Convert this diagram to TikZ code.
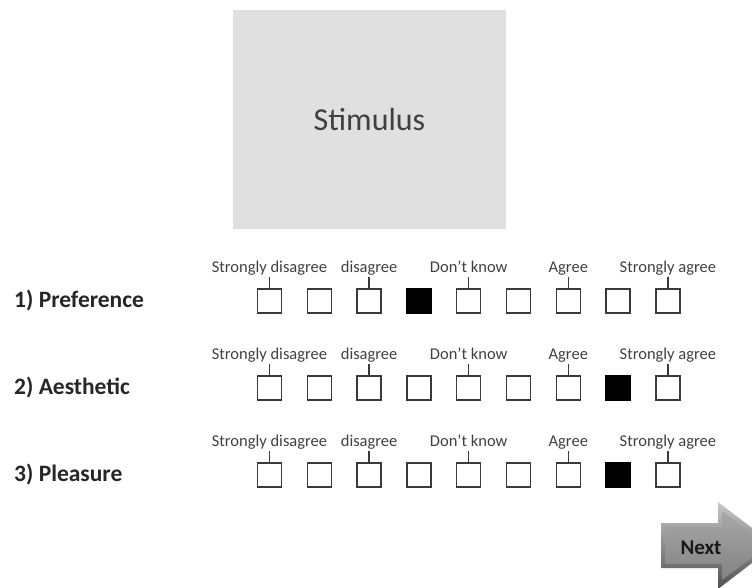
\documentclass[tikz,border=0pt]{standalone}
\usepackage{fontspec}
\setmainfont{Carlito}
\usetikzlibrary{positioning}
\definecolor{boxline}{HTML}{3A3A3A}
\definecolor{labeltext}{HTML}{404040}
\definecolor{stimfill}{HTML}{E0E0E0}
\definecolor{bevellight}{HTML}{C8C8C8}
\definecolor{beveldark}{HTML}{505050}
\definecolor{facetop}{HTML}{A8A8A8}
\definecolor{facebottom}{HTML}{828282}
\begin{document}
\begin{tikzpicture}[x=1pt, y=-1pt, node distance=49.8pt,
  choice/.style={rectangle, draw=boxline, line width=1.5pt, minimum size=24pt, inner sep=0pt},
  picked/.style={choice, fill=black, draw=black},
  scale label/.style={text=labeltext, font=\fontsize{16.5}{18}\selectfont, inner sep=0pt, text height=12pt, text depth=5pt},
  item/.style={text=black!85, font=\fontsize{23.5}{26}\selectfont\bfseries, anchor=west, inner sep=0pt}]
\useasboundingbox (0,0) rectangle (752,587);
\clip (0,0) rectangle (752,587);
\node[rectangle, fill=stimfill, minimum width=273pt, minimum height=219pt] (stim) at (369.5,119.5) {\fontsize{32}{36}\selectfont\color{labeltext}\raisebox{-2pt}{Stimulus}};

% questions with their nine boxes
\foreach \r/\y/\txt/\sel in {1/301/{1) Preference}/4, 2/388/{2) Aesthetic}/8, 3/475/{3) Pleasure}/8} {
  \node[item] (q\r) at (14,\y) {\txt};
  \node[choice] (b\r1) at (269.5,\y) {};
  \foreach \k [remember=\k as \j (initially 1)] in {2,...,9} {
    \ifnum\k=\sel \def\st{picked}\else \def\st{choice}\fi
    \node[\st, right of=b\r\j] (b\r\k) {};
  }
  \foreach \k/\lab in {1/Strongly disagree, 3/disagree, 5/Don’t know, 7/Agree, 9/Strongly agree} {
    \node[scale label, above=11pt of b\r\k] (l\r\k) {\lab};
    \draw[boxline, line width=1.5pt] (l\r\k.south) -- (b\r\k.north);
  }
}

% next button
\shade[top color=bevellight, bottom color=beveldark] (661,523) -- (718,523) -- (718,502) -- (775,545.5) -- (718,589) -- (718,568) -- (661,568) -- cycle;
\shade[top color=facetop, bottom color=facebottom] (665,527) -- (722,527) -- (722,511) -- (768,545.5) -- (722,580) -- (722,564) -- (665,564) -- cycle;
\node[font=\fontsize{21}{24}\selectfont\bfseries, text=black!90] (next) at (701,548) {Next};
\end{tikzpicture}
\end{document}
